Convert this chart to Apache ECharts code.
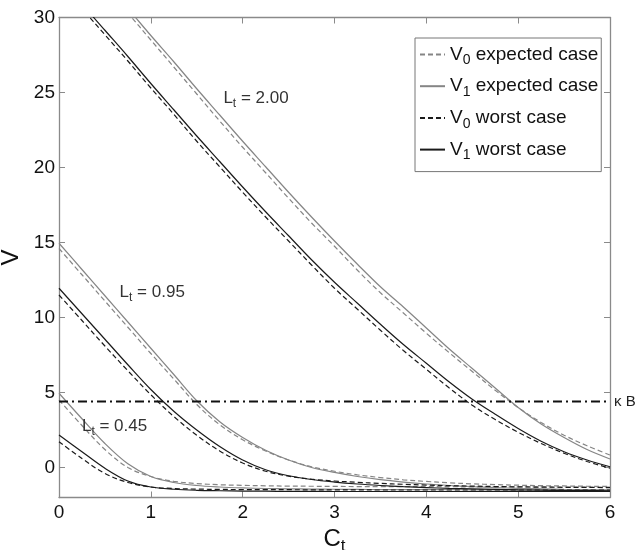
<!DOCTYPE html>
<html><head><meta charset="utf-8">
<script src="https://cdn.jsdelivr.net/npm/echarts@6/dist/echarts.min.js"></script>
<style>html,body{margin:0;padding:0;background:#fff}#c{width:638px;height:550px}</style>
</head><body><div id="c"></div>
<script>
// ---- data ----
const ct = [0,0.25,0.5,0.75,1,1.25,1.5,1.75,2,2.25,2.5,2.75,3,3.25,3.5,3.75,4,4.25,4.5,4.75,5,5.25,5.5,5.75,6];
const xTicks = [0,1,2,3,4,5,6];
const yTicks = [0,5,10,15,20,25,30];
const kappaB = 4.4;

// L_t = 2.00
const L200_V0exp = [35.6,33.8,32.05,30.3,28.5,26.7,24.9,23.1,21.35,19.65,17.95,16.3,14.75,13.15,11.65,10.3,8.95,7.65,6.4,5.15,4.0,3.0,2.15,1.45,0.83];
const L200_V1exp = [35.9,34.1,32.35,30.6,28.8,27.05,25.25,23.5,21.75,20.05,18.35,16.7,15.1,13.55,12.05,10.7,9.3,7.9,6.6,5.3,4.0,2.9,2.0,1.2,0.57];
const L200_V0wst = [32.4,30.6,28.85,27.1,25.3,23.55,21.75,20.05,18.35,16.7,15.1,13.5,11.95,10.55,9.15,7.8,6.55,5.3,4.15,3.2,2.35,1.6,0.95,0.4,-0.05];
const L200_V1wst = [32.7,30.9,29.15,27.4,25.6,23.85,22.1,20.4,18.7,17.05,15.45,13.85,12.35,10.95,9.55,8.2,6.95,5.7,4.55,3.55,2.6,1.75,1.05,0.5,0.05];
// L_t = 0.95
const L095_V0exp = [14.6,12.85,11.1,9.35,7.6,5.9,4.2,2.85,1.85,1.1,0.5,0.05,-0.25,-0.49,-0.67,-0.82,-0.93,-1.02,-1.09,-1.14,-1.18,-1.21,-1.23,-1.25,-1.26];
const L095_V1exp = [14.95,13.2,11.45,9.7,7.95,6.2,4.45,3.05,2.0,1.15,0.5,0.0,-0.33,-0.6,-0.81,-0.97,-1.1,-1.2,-1.28,-1.34,-1.39,-1.43,-1.46,-1.48,-1.5];
const L095_V0wst = [11.5,9.8,8.1,6.45,4.85,3.4,2.15,1.1,0.3,-0.25,-0.58,-0.78,-0.9,-0.99,-1.06,-1.12,-1.17,-1.21,-1.24,-1.27,-1.29,-1.31,-1.32,-1.33,-1.34];
const L095_V1wst = [11.95,10.25,8.55,6.85,5.2,3.75,2.5,1.4,0.5,-0.15,-0.55,-0.8,-0.97,-1.1,-1.2,-1.28,-1.34,-1.39,-1.43,-1.46,-1.49,-1.51,-1.53,-1.54,-1.55];
// L_t = 0.45
const L045_V0exp = [4.5,2.8,1.2,0.0,-0.6,-0.92,-1.07,-1.15,-1.19,-1.22,-1.24,-1.25,-1.26,-1.27,-1.27,-1.28,-1.28,-1.28,-1.29,-1.29,-1.29,-1.29,-1.3,-1.3,-1.3];
const L045_V1exp = [4.95,3.25,1.6,0.25,-0.6,-1.0,-1.2,-1.3,-1.36,-1.4,-1.42,-1.44,-1.45,-1.46,-1.47,-1.47,-1.48,-1.48,-1.49,-1.49,-1.49,-1.5,-1.5,-1.5,-1.5];
const L045_V0wst = [1.72,0.6,-0.4,-1.0,-1.3,-1.4,-1.44,-1.46,-1.47,-1.48,-1.48,-1.49,-1.49,-1.49,-1.5,-1.5,-1.5,-1.5,-1.5,-1.5,-1.5,-1.5,-1.5,-1.5,-1.5];
const L045_V1wst = [2.17,1.05,-0.05,-0.9,-1.3,-1.45,-1.52,-1.55,-1.57,-1.58,-1.59,-1.59,-1.6,-1.6,-1.6,-1.6,-1.6,-1.6,-1.6,-1.6,-1.6,-1.6,-1.6,-1.6,-1.6];

const legendNames = ['V0 expected case','V1 expected case','V0 worst case','V1 worst case'];
const curveSets = {
  'V0 expected case': [L200_V0exp, L095_V0exp, L045_V0exp],
  'V1 expected case': [L200_V1exp, L095_V1exp, L045_V1exp],
  'V0 worst case':    [L200_V0wst, L095_V0wst, L045_V0wst],
  'V1 worst case':    [L200_V1wst, L095_V1wst, L045_V1wst]
};
const annotations = [
  {text:'2.00', x:1.79, y:24.6},
  {text:'0.95', x:0.66, y:11.65},
  {text:'0.45', x:0.25, y:2.72}
];

// ---- styling ----
const FONT = '"Liberation Sans", Arial, Helvetica, sans-serif';
const GRAY = '#858585', BLACK = '#1a1a1a', AXIS = '#8a8a8a';
const styleOf = {
  'V0 expected case': {color: GRAY, type: [5,3], z: 2},
  'V1 expected case': {color: GRAY, type: 'solid', z: 2},
  'V0 worst case':    {color: BLACK, type: [5,3], z: 3},
  'V1 worst case':    {color: BLACK, type: 'solid', z: 3}
};

const series = [];
legendNames.forEach(name => {
  const st = styleOf[name];
  curveSets[name].forEach(arr => {
    series.push({
      type: 'line', name: name, symbol: 'none', smooth: 0.35, silent: true, clip: true,
      z: st.z, xAxisIndex: 0, yAxisIndex: 0,
      lineStyle: {color: st.color, width: 1.2, type: st.type},
      itemStyle: {color: st.color},
      emphasis: {disabled: true},
      data: ct.map((x, i) => [x, arr[i]])
    });
  });
});
series.push({
  type: 'line', name: 'kB', symbol: 'none', silent: true, z: 4,
  lineStyle: {color: '#111', width: 1.8, type: [9,4,2,4]},
  data: [[ct[0], kappaB], [ct[ct.length-1], kappaB]],
  endLabel: {show: true, formatter: 'κ B', fontFamily: FONT, fontSize: 15, color: '#222', distance: 4}
});

const axisCommon = {
  type: 'value',
  axisLine: {show: true, onZero: false, lineStyle: {color: AXIS, width: 1.3}},
  axisTick: {show: true, inside: true, length: 6, lineStyle: {color: AXIS, width: 1}},
  splitLine: {show: false}
};

const chart = echarts.init(document.getElementById('c'));
chart.setOption({
  backgroundColor: '#fff',
  animation: false,
  grid: {left: 59, right: 28, top: 17.5, bottom: 52.5, containLabel: false, outerBoundsMode: 'none'},
  legend: {
    show: true, orient: 'vertical', left: 415, top: 38,
    data: legendNames, selectedMode: false,
    itemWidth: 25, itemHeight: 14, itemGap: 9.2,
    padding: [7, 3, 9, 4],
    borderColor: '#777', borderWidth: 1, backgroundColor: '#fff',
    itemStyle: {opacity: 0},
    textStyle: {
      fontFamily: FONT, fontSize: 19, color: '#111',
      rich: {
        v: {fontFamily: FONT, fontSize: 19, color: '#111'},
        s: {fontFamily: FONT, fontSize: 14, color: '#111', padding: [12, 0, 0, 0]}
      }
    },
    formatter: n => { const m = n.match(/^V(\d) (.*)$/); return '{v|V}{s|' + m[1] + '}{v| ' + m[2] + '}'; }
  },
  xAxis: [
    Object.assign({}, axisCommon, {
      min: 0, max: 6, interval: 1, position: 'bottom',
      axisLabel: {show: true, fontFamily: FONT, fontSize: 19, color: '#111', margin: 6, formatter: v => String(v)},
      name: '{c|C}{s|t}', nameLocation: 'middle', nameGap: 23,
      nameTextStyle: {rich: {
        c: {fontFamily: FONT, fontSize: 24, color: '#111'},
        s: {fontFamily: FONT, fontSize: 17, color: '#111', padding: [14, 0, 0, 0]}
      }}
    }),
    Object.assign({}, axisCommon, {
      min: 0, max: 6, interval: 1, position: 'top', axisLabel: {show: false}
    })
  ],
  yAxis: [
    Object.assign({}, axisCommon, {
      min: -2, max: 30, position: 'left',
      axisTick: Object.assign({}, axisCommon.axisTick, {customValues: yTicks}),
      axisLabel: {show: true, customValues: yTicks, fontFamily: FONT, fontSize: 19, color: '#111', margin: 4},
      name: 'V', nameLocation: 'middle', nameGap: 26,
      nameTextStyle: {fontFamily: FONT, fontSize: 24, color: '#111'}
    }),
    Object.assign({}, axisCommon, {
      min: -2, max: 30, position: 'right',
      axisTick: Object.assign({}, axisCommon.axisTick, {customValues: yTicks}),
      axisLabel: {show: false, customValues: yTicks}
    })
  ],
  series: series
});

// annotations anchored in data coordinates
const graphics = annotations.map(a => {
  const p = chart.convertToPixel({gridIndex: 0}, [a.x, a.y]);
  return {
    type: 'text', x: p[0], y: p[1], silent: true, z: 10,
    style: {
      text: '{l|L}{s|t}{l| = ' + a.text + '}',
      verticalAlign: 'middle', align: 'left',
      rich: {
        l: {fontFamily: FONT, fontSize: 17, fill: '#333', color: '#333'},
        s: {fontFamily: FONT, fontSize: 12, fill: '#333', color: '#333', padding: [10, 0, 0, 0]}
      }
    }
  };
});
chart.setOption({graphic: graphics});
</script>
</body></html>
